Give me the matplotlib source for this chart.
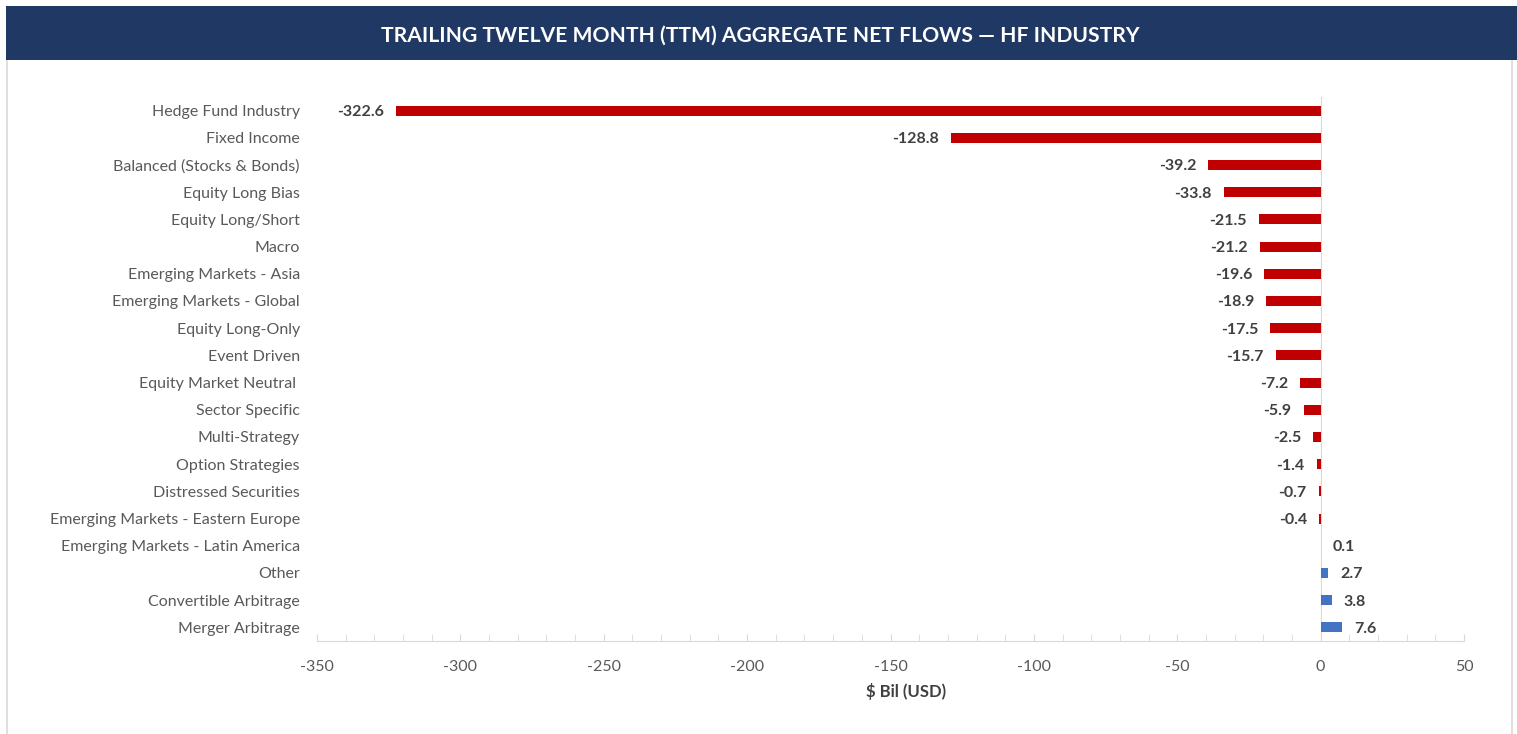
import numpy as np
import matplotlib.pyplot as plt
from matplotlib.patches import Rectangle

plt.rcParams['font.family'] = ['Lato', 'DejaVu Sans']

categories = [
    "Hedge Fund Industry", "Fixed Income", "Balanced (Stocks & Bonds)",
    "Equity Long Bias", "Equity Long/Short", "Macro",
    "Emerging Markets - Asia", "Emerging Markets - Global",
    "Equity Long-Only", "Event Driven", "Equity Market Neutral ",
    "Sector Specific", "Multi-Strategy", "Option Strategies",
    "Distressed Securities", "Emerging Markets - Eastern Europe",
    "Emerging Markets - Latin America", "Other", "Convertible Arbitrage",
    "Merger Arbitrage",
]
flows = [-322.6, -128.8, -39.2, -33.8, -21.5, -21.2, -19.6, -18.9, -17.5,
         -15.7, -7.2, -5.9, -2.5, -1.4, -0.7, -0.4, 0.1, 2.7, 3.8, 7.6]
x_ticks = [-350, -300, -250, -200, -150, -100, -50, 0, 50]

RED = "#C00000"
BLUE = "#4472C4"
colors = [BLUE if v >= 1 else RED for v in flows]

W, H = 1517, 734
fig = plt.figure(figsize=(W / 100, H / 100), dpi=100)

# outer border and title bar
fig.patches.append(Rectangle((7 / W, -0.01), (1512 - 7) / W, 1.0, transform=fig.transFigure,
                             facecolor="none", edgecolor="#D9D9D9", lw=1.2, zorder=0))
fig.patches.append(Rectangle((6 / W, 1 - 60 / H), (W - 6) / W, 54 / H, transform=fig.transFigure,
                             facecolor="#1F3864", edgecolor="none", zorder=1))
fig.text(760 / W, 1 - 36 / H, "TRAILING TWELVE MONTH (TTM) AGGREGATE NET FLOWS \u2014 HF INDUSTRY",
         color="white", fontsize=15.2, fontweight="bold", ha="center", va="center")

ax = fig.add_axes([317 / W, 1 - 641 / H, (1464 - 317) / W, (641 - 97) / H])
ax.set_zorder(5)
ax.patch.set_alpha(0)
y = np.arange(len(categories))
ax.barh(y, flows, height=0.37, color=colors, zorder=3)
ax.set_ylim(len(categories) - 0.5, -0.5)
ax.set_xlim(-350, 50)

ax.set_yticks([])
ax.set_xticks(x_ticks)
ax.set_xticklabels([str(t) for t in x_ticks], fontsize=11.5, color="#595959")
ax.set_xticks(np.arange(-350, 51, 10), minor=True)
ax.tick_params(axis="x", which="both", direction="in", length=5, color="#D9D9D9", pad=14)

for s in ["top", "right"]:
    ax.spines[s].set_visible(False)
ax.spines["bottom"].set_color("#D9D9D9")
ax.spines["left"].set_color("#D9D9D9")
ax.spines["left"].set_position(("data", 0))
ax.spines["left"].set_zorder(2)

# category names sit at the left edge of the plot area
for yi, name in zip(y, categories):
    ax.text(-0.015, yi, name, transform=ax.get_yaxis_transform(), ha="right",
            va="center_baseline", fontsize=11.5, color="#595959")

for yi, v in zip(y, flows):
    if v < 0:
        ax.text(v - 4.2, yi, f"{v:.1f}", ha="right", va="center_baseline", fontsize=11.5,
                fontweight="bold", color="#404040")
    else:
        ax.text(v + 4.2, yi, f"{v:.1f}", ha="left", va="center_baseline", fontsize=11.5,
                fontweight="bold", color="#404040")

fig.text(906 / W, 1 - 692 / H, "$ Bil (USD)", fontsize=12, fontweight="bold",
         color="#404040", ha="center", va="center")

fig.savefig("out.png", dpi=100)
